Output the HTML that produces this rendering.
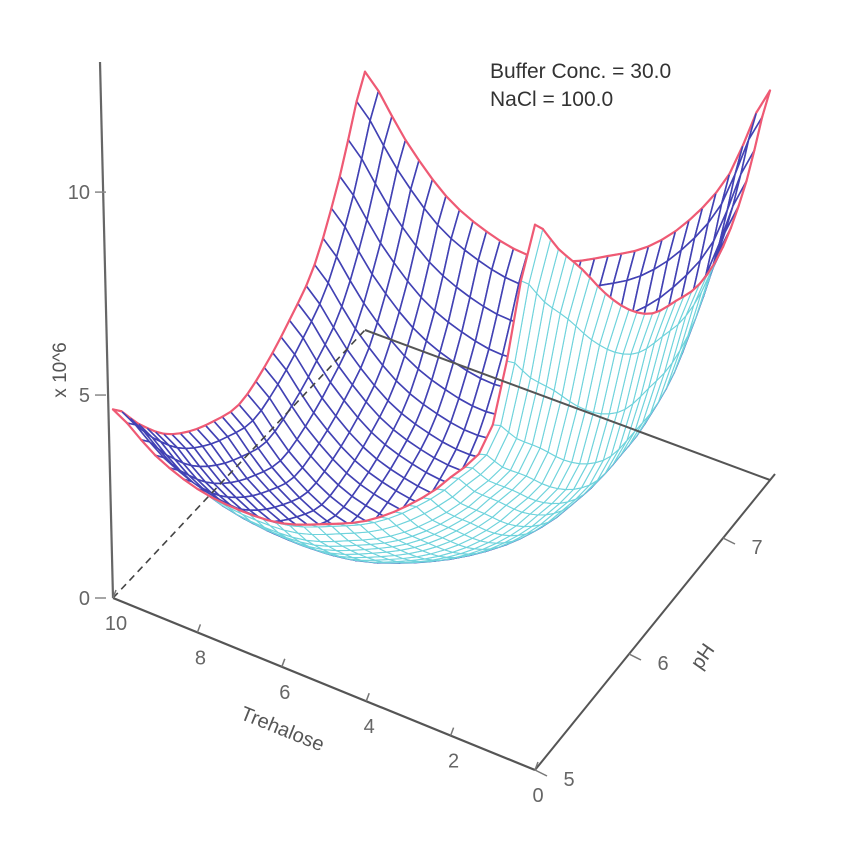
<!DOCTYPE html>
<html><head><meta charset="utf-8"><style>
html,body{margin:0;padding:0;background:#fff;}
svg{display:block;font-family:"Liberation Sans",sans-serif;}
</style></head><body>
<svg id="chart" width="857" height="847" viewBox="0 0 857 847" xmlns="http://www.w3.org/2000/svg">
<g id="surface"></g>
<g id="axes"></g>
<text x="490" y="78" font-size="21" fill="#333">Buffer Conc. = 30.0</text>
<text x="490" y="106" font-size="21" fill="#333">NaCl = 100.0</text>
<text transform="translate(66,370) rotate(-90)" text-anchor="middle" font-size="19" fill="#555">x 10^6</text>
<text transform="translate(280,735) rotate(22)" text-anchor="middle" font-size="20" fill="#555">Trehalose</text>
<text transform="translate(708,660) rotate(-55)" text-anchor="middle" font-size="20" fill="#555">pH</text>
</svg>
<script>
// Surface edge profiles (values x10^6), sampled at 11 points
const tValues = [10,9,8,7,6,5,4,3,2,1,0];
const phValues = [5,5.25,5.5,5.75,6,6.25,6.5,6.75,7,7.25,7.5];
const zFrontPH5 = [4.6,3.9,3.5,3.4,3.5,3.9,4.4,5.2,6.3,8.0,13.3];   // pH=5 edge along T
const zBackPH75 = [6.3,5.0,4.0,3.5,3.3,3.5,4.0,4.6,5.6,7.1,9.5];   // pH=7.5 edge along T
const zLeftT10 = [4.6,3.6,2.7,2.1,1.7,1.45,1.7,2.2,2.9,4.4,6.3];   // T=10 edge along pH
const zRightT0 = [13.3,12.0,10.8,9.5,8.4,7.6,7.2,6.9,7.1,8.0,9.5]; // T=0 edge along pH
const zTicks = [0,5,10];
const tTicks = [10,8,6,4,2,0];
const phTicks = [5,6,7];

const NS="http://www.w3.org/2000/svg";
const C00=[113,598], C10=[535,770], C01=[365,330], C11=[770,480];
const ZPX=41;
function floorXY(T,pH){
  const u=(10-T)/10, v=(pH-5)/2.5;
  return [ (1-u)*(1-v)*C00[0]+u*(1-v)*C10[0]+(1-u)*v*C01[0]+u*v*C11[0],
           (1-u)*(1-v)*C00[1]+u*(1-v)*C10[1]+(1-u)*v*C01[1]+u*v*C11[1] ];
}
function sampleArr(arr,s){
  const n=arr.length-1, f=s*n; let i=Math.floor(f); if(i>=n)i=n-1; const t=f-i;
  const p0=arr[Math.max(i-1,0)],p1=arr[i],p2=arr[i+1],p3=arr[Math.min(i+2,n)];
  return 0.5*((2*p1)+(-p0+p2)*t+(2*p0-5*p1+4*p2-p3)*t*t+(-p0+3*p1-3*p2+p3)*t*t*t);
}
function zAt(u,v){
  const a=sampleArr(zFrontPH5,u), b=sampleArr(zBackPH75,u);
  const c=sampleArr(zLeftT10,v), d=sampleArr(zRightT0,v);
  const bil=(1-u)*(1-v)*zFrontPH5[0]+u*(1-v)*zFrontPH5[10]+(1-u)*v*zBackPH75[0]+u*v*zBackPH75[10];
  return (1-v)*a+v*b+(1-u)*c+u*d-bil;
}
function proj(u,v){
  const T=10-10*u, pH=5+2.5*v; const f=floorXY(T,pH);
  return [f[0], f[1]-zAt(u,v)*ZPX, f[1]];
}
const N=30;
const P=[];
for(let i=0;i<=N;i++){P.push([]);for(let j=0;j<=N;j++)P[i].push(proj(i/N,j/N));}
const quads=[];
for(let i=0;i<N;i++)for(let j=0;j<N;j++){
  const a=P[i][j],b=P[i+1][j],c=P[i+1][j+1],d=P[i][j+1];
  quads.push({i,j,pts:[a,b,c,d],depth:(a[2]+b[2]+c[2]+d[2])/4});
}
quads.sort((p,q)=>p.depth-q.depth);
const surf=document.getElementById('surface');
for(const q of quads){
  const [a,b,c,d]=q.pts;
  const cross=(c[0]-a[0])*(d[1]-b[1])-(c[1]-a[1])*(d[0]-b[0]);
  const col=cross<0?'#4242b4':'#6fd3dc';
  const poly=document.createElementNS(NS,'polygon');
  poly.setAttribute('points',q.pts.map(p=>p[0].toFixed(1)+','+p[1].toFixed(1)).join(' '));
  poly.setAttribute('fill','#fff');
  poly.setAttribute('stroke',col);
  poly.setAttribute('stroke-width',cross<0?'1.6':'1.1');
  poly.setAttribute('stroke-linejoin','round');
  
  
  surf.appendChild(poly);
  const edges=[];
  if(q.j===0)edges.push([a,b]);
  if(q.j===N-1)edges.push([d,c]);
  if(q.i===0)edges.push([a,d]);
  if(q.i===N-1)edges.push([b,c]);
  for(const e of edges){
    const l=document.createElementNS(NS,'line');
    l.setAttribute('x1',e[0][0]);l.setAttribute('y1',e[0][1]);
    l.setAttribute('x2',e[1][0]);l.setAttribute('y2',e[1][1]);
    l.setAttribute('stroke','#ef5a74');l.setAttribute('stroke-width','2.2');
    l.setAttribute('stroke-linecap','round');
    
    
    surf.appendChild(l);
  }
}
const axes=document.getElementById('axes');
function line(x1,y1,x2,y2,stroke,w,name,dash){
  const l=document.createElementNS(NS,'line');
  l.setAttribute('x1',x1);l.setAttribute('y1',y1);l.setAttribute('x2',x2);l.setAttribute('y2',y2);
  l.setAttribute('stroke',stroke);l.setAttribute('stroke-width',w);
  if(dash)l.setAttribute('stroke-dasharray',dash);
  
  
  axes.appendChild(l);return l;
}
function text(x,y,s,name,anchor){
  const t=document.createElementNS(NS,'text');
  t.setAttribute('x',x);t.setAttribute('y',y);t.setAttribute('font-size','20');
  t.setAttribute('fill','#666');t.setAttribute('text-anchor',anchor||'middle');
  t.textContent=s;
  
  
  axes.appendChild(t);
}
line(C00[0],C00[1],C01[0],C01[1],'#444',1.6,'floor-edge-left','7 5');
line(C01[0],C01[1],C11[0],C11[1],'#555',2,'floor-edge-back');
line(C00[0],C00[1],C10[0],C10[1],'#555',2.2,'trehalose-axis');
line(C10[0],C10[1],C11[0]+5,C11[1]-6,'#555',2,'ph-axis');
line(113,598,100,62,'#666',2.2,'z-axis');
for(const z of zTicks){
  const y=598-z*ZPX*0.99;
  line(95,y,106,y,'#888',1.5,'z-tick');
  text(90,y+7,String(z),'z-tick-label','end');
}
for(const T of tTicks){
  const f=floorXY(T,5);
  line(f[0],f[1],f[0]+3,f[1]-8,'#777',1.5,'trehalose-tick');
  text(f[0]+3,f[1]+32,String(T),'trehalose-tick-label');
}
for(const p of phTicks){
  const f=floorXY(0,p);
  line(f[0],f[1],f[0]+12,f[1]+6,'#777',1.5,'ph-tick');
  text(f[0]+34,f[1]+16,String(p),'ph-tick-label');
}
</script>
</body></html>
